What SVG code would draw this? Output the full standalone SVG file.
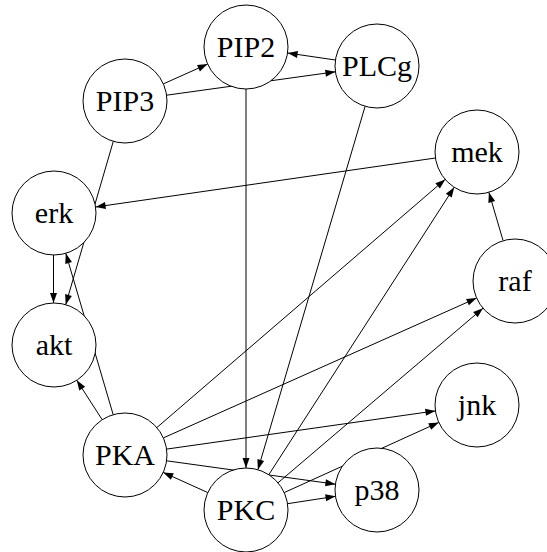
<svg xmlns="http://www.w3.org/2000/svg" width="547" height="552" viewBox="0 0 547 552">
<defs>
<marker id="ah" markerUnits="userSpaceOnUse" markerWidth="10" markerHeight="8" refX="10" refY="3.5" orient="auto" viewBox="0 0 10 7" overflow="visible">
<path d="M0,0 L10,3.5 L0,7 z" fill="#000"/>
</marker>
<style>
.e{stroke:#000;stroke-width:1;fill:none;marker-end:url(#ah)}
.n circle{fill:#fff;stroke:#000;stroke-width:1}
.n text{font-family:'Liberation Serif','Times New Roman',serif;font-size:30px;text-anchor:middle;fill:#000}
</style>
</defs>
<rect width="547" height="552" fill="#fff"/>
<g id="edges">
<line class="e" x1="163.3" y1="83.9" x2="207.6" y2="64.1"/>
<line class="e" x1="166.6" y1="95.2" x2="335.4" y2="71.8"/>
<line class="e" x1="335.4" y1="60.0" x2="287.6" y2="53.0"/>
<line class="e" x1="435.4" y1="158.0" x2="95.6" y2="207.0"/>
<line class="e" x1="53.5" y1="255" x2="53.5" y2="303"/>
<line class="e" x1="113.3" y1="141.3" x2="65.7" y2="304.7"/>
<line class="e" x1="113.2" y1="414.7" x2="65.8" y2="253.3"/>
<line class="e" x1="102.2" y1="419.7" x2="76.8" y2="380.3"/>
<line class="e" x1="156.8" y1="427.6" x2="445.2" y2="179.4"/>
<line class="e" x1="163.4" y1="437.9" x2="476.6" y2="298.1"/>
<line class="e" x1="166.6" y1="449.1" x2="435.4" y2="410.9"/>
<line class="e" x1="166.6" y1="460.8" x2="335.4" y2="484.2"/>
<line class="e" x1="207.8" y1="492.6" x2="163.2" y2="472.4"/>
<line class="e" x1="246" y1="89" x2="246" y2="468"/>
<line class="e" x1="365.1" y1="106.3" x2="257.9" y2="469.7"/>
<line class="e" x1="268.8" y1="474.7" x2="454.2" y2="187.3"/>
<line class="e" x1="278.0" y1="482.8" x2="483.0" y2="308.2"/>
<line class="e" x1="284.2" y1="492.6" x2="438.8" y2="422.4"/>
<line class="e" x1="287.5" y1="503.7" x2="335.5" y2="496.3"/>
<line class="e" x1="503.1" y1="240.7" x2="488.9" y2="192.3"/>
</g>
<g id="PIP2" class="n"><circle cx="246" cy="47" r="42"/><text x="246" y="57">PIP2</text></g>
<g id="PLCg" class="n"><circle cx="377" cy="66" r="42"/><text x="377" y="76">PLCg</text></g>
<g id="PIP3" class="n"><circle cx="125" cy="101" r="42"/><text x="125" y="111">PIP3</text></g>
<g id="mek" class="n"><circle cx="477" cy="152" r="42"/><text x="477" y="162">mek</text></g>
<g id="erk" class="n"><circle cx="54" cy="213" r="42"/><text x="54" y="223">erk</text></g>
<g id="raf" class="n"><circle cx="515" cy="281" r="42"/><text x="515" y="291">raf</text></g>
<g id="akt" class="n"><circle cx="54" cy="345" r="42"/><text x="54" y="355">akt</text></g>
<g id="jnk" class="n"><circle cx="477" cy="405" r="42"/><text x="477" y="415">jnk</text></g>
<g id="PKA" class="n"><circle cx="125" cy="455" r="42"/><text x="125" y="465">PKA</text></g>
<g id="p38" class="n"><circle cx="377" cy="490" r="42"/><text x="377" y="500">p38</text></g>
<g id="PKC" class="n"><circle cx="246" cy="510" r="42"/><text x="246" y="520">PKC</text></g>
</svg>
